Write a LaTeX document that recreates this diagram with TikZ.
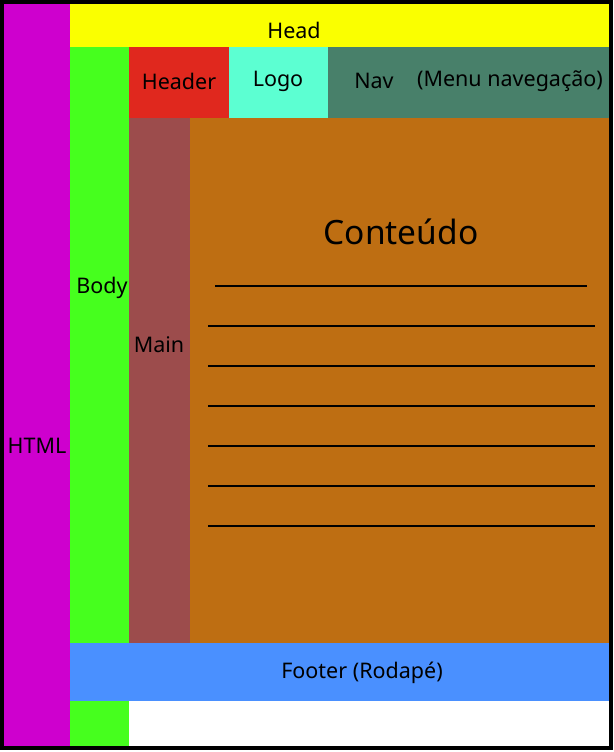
\documentclass[tikz,border=0pt]{standalone}
\usepackage{fontspec}
\setmainfont{Noto Sans}
\definecolor{cHtml}{RGB}{206,0,206}
\definecolor{cHead}{RGB}{250,255,0}
\definecolor{cBody}{RGB}{70,255,30}
\definecolor{cHeader}{RGB}{224,40,30}
\definecolor{cLogo}{RGB}{92,255,210}
\definecolor{cNav}{RGB}{72,128,106}
\definecolor{cMain}{RGB}{156,76,76}
\definecolor{cCont}{RGB}{190,110,18}
\definecolor{cFoot}{RGB}{74,144,255}
\begin{document}
\begin{tikzpicture}[x=1pt,y=-1pt,
  lbl/.style={font=\fontsize{21.5}{21.5}\selectfont, text=black, inner sep=0pt},
  txtline/.style={draw=black, line width=2pt}]
\useasboundingbox (0,0) rectangle (613,752);
\fill[white] (0,0) rectangle (613,752);
\fill[cHtml] (3,3) rectangle (70,748);
\fill[cHead] (70,3) rectangle (610,47);
\fill[cBody] (70,47) rectangle (129,748);
\fill[cHeader] (129,47) rectangle (229,118);
\fill[cLogo] (229,47) rectangle (328,118);
\fill[cNav] (328,47) rectangle (610,118);
\fill[cMain] (129,118) rectangle (190,643);
\fill[cCont] (190,118) rectangle (610,643);
\fill[cFoot] (70,643) rectangle (610,701);
\fill[white] (129,701) rectangle (610,748);
\draw[black, line width=4pt] (2,2) rectangle (611,748);
\node[lbl] (head) at (294,30) {Head};
\node[lbl] (header) at (179,81) {Header};
\node[lbl] (logo) at (278,81) {Logo};
\node[lbl] (nav) at (374,81) {Nav};
\node[lbl] (menu) at (510,81) {(Menu navegação)};
\node[lbl] (body) at (102,288) {Body};
\node[lbl] (main) at (159,345) {Main};
\node[lbl] (html) at (37,446) {HTML};
\node[lbl] (footer) at (362,673) {Footer (Rodapé)};
\node[lbl, font=\fontsize{33.5}{33.5}\selectfont] (cont) at (401,232) {Conteúdo};
\coordinate (l1a) at (215,286); \coordinate (l1b) at (587,286);
\draw[txtline] (l1a) -- (l1b);
\foreach \yy in {326,366,406,446,486,526}{
  \coordinate (la) at (208,\yy); \coordinate (lb) at (595,\yy);
  \draw[txtline] (la) -- (lb);
}
\end{tikzpicture}
\end{document}
